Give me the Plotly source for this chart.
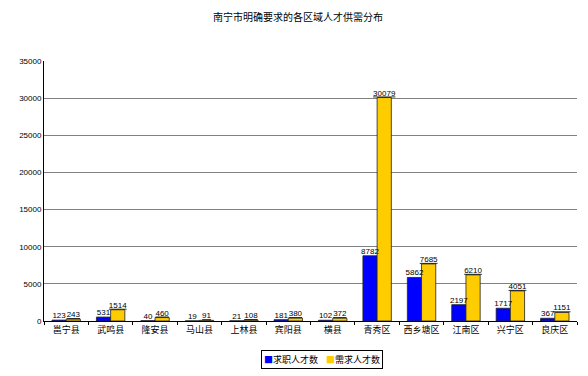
import plotly.graph_objects as go

categories = ["邕宁县", "武鸣县", "隆安县", "马山县", "上林县", "宾阳县", "横县",
              "青秀区", "西乡塘区", "江南区", "兴宁区", "良庆区"]
seekers = [123, 531, 40, 19, 21, 181, 102, 8782, 5862, 2197, 1717, 367]
demand = [243, 1514, 460, 91, 108, 380, 372, 30079, 7685, 6210, 4051, 1151]
y_ticks = [0, 5000, 10000, 15000, 20000, 25000, 30000, 35000]
series_names = ["求职人才数", "需求人才数"]

num_font = "Liberation Sans, Arial, sans-serif"
cjk_font = "Noto Sans CJK SC, sans-serif"
blue = "#0000FF"
yellow = "#FFCC00"

fig = go.Figure()
fig.add_trace(go.Bar(
    x=categories, y=seekers, name=series_names[0], showlegend=False, offsetgroup="a",
    marker=dict(color=blue, line=dict(color="#222222", width=0.8)),
))
fig.add_trace(go.Bar(
    x=categories, y=demand, name=series_names[1], showlegend=False, offsetgroup="b",
    marker=dict(color=yellow, line=dict(color="#222222", width=0.8)),
))
# value labels drawn above the bars, aligned to each bar via offset groups
fig.add_trace(go.Scatter(
    x=categories, y=seekers, mode="text", offsetgroup="a", showlegend=False,
    text=[str(v) for v in seekers], textposition="top center", cliponaxis=False,
    textfont=dict(size=8, color="#000000", family=num_font), hoverinfo="skip",
))
fig.add_trace(go.Scatter(
    x=categories, y=demand, mode="text", offsetgroup="b", showlegend=False,
    text=["<u>%d</u>" % v for v in demand], textposition="top center", cliponaxis=False,
    textfont=dict(size=8, color="#000000", family=num_font), hoverinfo="skip",
))

legend_text = ("<span style='color:%s'>■</span>%s    <span style='color:%s'>■</span>%s"
               % (blue, series_names[0], yellow, series_names[1]))
fig.add_annotation(
    text=legend_text, xref="paper", yref="paper", x=0.522, y=-0.11,
    xanchor="center", yanchor="top", showarrow=False,
    bordercolor="#000000", borderwidth=1, borderpad=2, bgcolor="white",
    font=dict(size=9, family=cjk_font, color="#000000"),
)

fig.update_layout(
    width=580, height=368,
    margin=dict(l=27, r=11, t=53, b=55),
    paper_bgcolor="white", plot_bgcolor="white",
    font=dict(family=num_font, size=9, color="#000000"),
    title=dict(text="南宁市明确要求的各区域人才供需分布", x=0.5, xanchor="center",
               y=0.973, yanchor="middle", font=dict(size=10, family=cjk_font)),
    barmode="group", bargap=0.36, bargroupgap=0.0,
    scattermode="group", scattergap=0.36,
    showlegend=False,
)
fig.update_xaxes(showline=True, linecolor="#000000", linewidth=1, ticks="outside",
                 tickson="boundaries", ticklen=3, tickcolor="#000000", tickangle=0,
                 tickfont=dict(size=9, family=cjk_font), showgrid=False)
fig.update_yaxes(range=[0, 35000], tickvals=y_ticks, ticktext=[str(v) for v in y_ticks],
                 showline=True, linecolor="#000000",
                 linewidth=1, showgrid=True, gridcolor="#808080", gridwidth=1,
                 tickfont=dict(size=8, family=num_font), zeroline=False, ticks="")

fig.write_html("out.html")
